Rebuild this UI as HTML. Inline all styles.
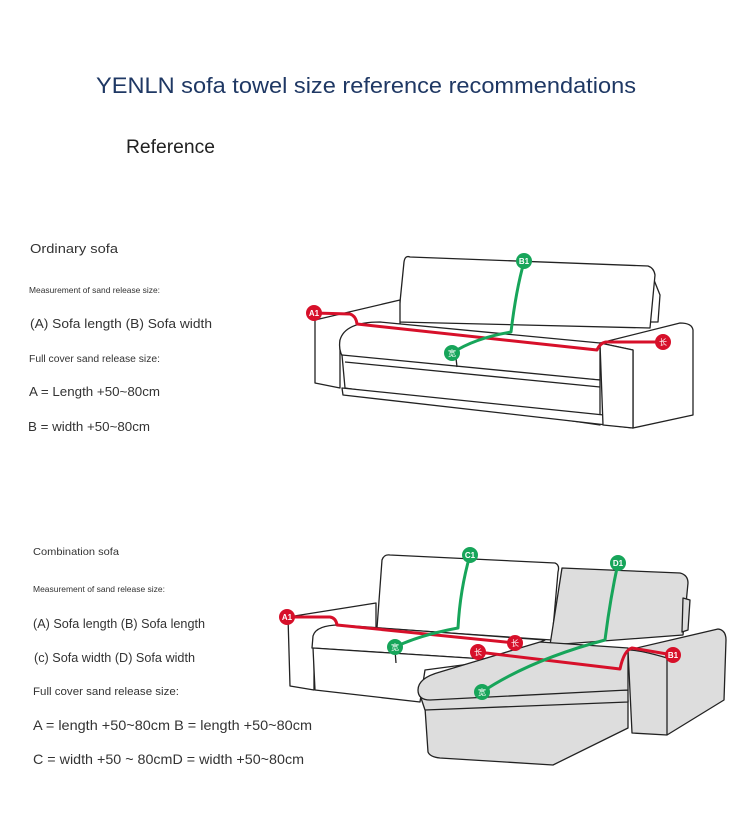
<!DOCTYPE html>
<html><head><meta charset="utf-8"><style>
html,body{margin:0;padding:0;background:#fff;}
svg{display:block;}
text{font-family:"Liberation Sans","Noto Sans CJK SC",sans-serif;}
</style></head><body>
<svg width="750" height="835" viewBox="0 0 750 835" xmlns="http://www.w3.org/2000/svg">
<rect width="750" height="835" fill="#fff"/>
<text x="96" y="93" font-size="22" fill="#1f3864" textLength="540" lengthAdjust="spacingAndGlyphs">YENLN sofa towel size reference recommendations</text>
<text x="126" y="153" font-size="19" fill="#222" textLength="89" lengthAdjust="spacingAndGlyphs">Reference</text>

<g fill="#333">
<text x="30" y="253" font-size="13" textLength="88" lengthAdjust="spacingAndGlyphs">Ordinary sofa</text>
<text x="29" y="293" font-size="8.5" textLength="131" lengthAdjust="spacingAndGlyphs">Measurement of sand release size:</text>
<text x="30" y="328" font-size="13" textLength="182" lengthAdjust="spacingAndGlyphs">(A) Sofa length (B) Sofa width</text>
<text x="29" y="362" font-size="10" textLength="131" lengthAdjust="spacingAndGlyphs">Full cover sand release size:</text>
<text x="29" y="396" font-size="13" textLength="131" lengthAdjust="spacingAndGlyphs">A = Length +50~80cm</text>
<text x="28" y="431" font-size="13" textLength="122" lengthAdjust="spacingAndGlyphs">B = width +50~80cm</text>

<text x="33" y="555" font-size="10.5" textLength="86" lengthAdjust="spacingAndGlyphs">Combination sofa</text>
<text x="33" y="592" font-size="8" textLength="132" lengthAdjust="spacingAndGlyphs">Measurement of sand release size:</text>
<text x="33" y="628" font-size="13" textLength="172" lengthAdjust="spacingAndGlyphs">(A) Sofa length (B) Sofa length</text>
<text x="34" y="662" font-size="13" textLength="161" lengthAdjust="spacingAndGlyphs">(c) Sofa width (D) Sofa width</text>
<text x="33" y="695" font-size="11" textLength="146" lengthAdjust="spacingAndGlyphs">Full cover sand release size:</text>
<text x="33" y="730" font-size="14" textLength="279" lengthAdjust="spacingAndGlyphs">A = length +50~80cm B = length +50~80cm</text>
<text x="33" y="764" font-size="14" textLength="271" lengthAdjust="spacingAndGlyphs">C = width +50 ~ 80cmD = width +50~80cm</text>
</g>

<!-- Top sofa -->
<g fill="#fff" stroke="#222" stroke-width="1.3" stroke-linejoin="round">
<path d="M650 270 L660 295 L658 322 L648 322 Z"/>
<path d="M410 257 Q405 255 404 262 L398 322 L650 328 L655 275 Q654 268 648 266 Z"/>
<path d="M315 320 L400 300 L400 335 L340 340 L340 388 L315 383 Z"/>
<path d="M340 340 Q345 322 380 322 L600 343 L600 380 L345 360 Q338 352 340 340 Z"/>
<path d="M342 355 L345 388 L600 425 L600 380 Z"/>
<path d="M342 388 L343 395 L633 428 L633 418 Z"/>
<path d="M600 343 L680 323 Q692 323 693 330 L693 415 L633 428 L633 350 Z"/>
<path d="M600 343 L633 350 L633 428 L603 425 Z"/>
<line x1="456" y1="358" x2="457" y2="367"/>
<line x1="345" y1="362" x2="600" y2="387"/>
</g>
<g fill="none" stroke-width="3" stroke-linecap="round" stroke-linejoin="round">
<path d="M314 313 L350 314 Q356 316 357 324 L597 350 Q600 343 606 342 L662 342" stroke="#d7102a"/>
<path d="M524 262 Q516 290 511 332 Q475 338 452 353" stroke="#17a55a"/>
</g>
<g font-size="8" font-weight="bold" fill="#fff" text-anchor="middle">
<circle cx="314" cy="313" r="8" fill="#d7102a"/><text x="314" y="316">A1</text>
<circle cx="524" cy="261" r="8" fill="#17a55a"/><text x="524" y="264">B1</text>
<circle cx="452" cy="353" r="8" fill="#17a55a"/><text x="452" y="356" font-weight="normal">宽</text>
<circle cx="663" cy="342" r="8" fill="#d7102a"/><text x="663" y="345" font-weight="normal">长</text>
</g>

<!-- Bottom sofa -->
<g stroke="#222" stroke-width="1.3" stroke-linejoin="round">
<path d="M390 555 L555 563 Q560 565 558 572 L552 640 L377 628 L382 560 Q384 554 390 555 Z" fill="#fff"/>
<path d="M562 568 L680 573 Q688 575 688 583 L683 635 L550 645 Z" fill="#ddd"/>
<path d="M683 598 L690 600 L688 630 L682 632 Z" fill="#ddd"/>
<path d="M288 617 L376 603 L376 630 L314 636 L314 690 L290 686 Z" fill="#fff"/>
<path d="M313 636 Q316 625 340 625 L545 640 L500 660 L312 648 Z" fill="#fff"/>
<path d="M313 648 L315 690 L420 702 L425 670 L500 660 Z" fill="#fff"/>
<path d="M425 708 L428 752 Q430 757 440 758 L553 765 L628 728 L628 700 Z" fill="#ddd"/>
<path d="M420 695 L425 710 L628 702 L628 690 Z" fill="#ddd"/>
<path d="M418 690 Q418 678 440 672 L540 642 L628 648 L628 690 L430 700 Q418 700 418 690 Z" fill="#ddd"/>
<path d="M628 650 L718 629 Q726 630 726 640 L724 700 L667 735 L632 733 Z" fill="#ddd"/>
<path d="M628 650 Q640 650 667 658 L667 735" fill="none"/>
<line x1="395" y1="650" x2="396" y2="663" fill="none"/>
</g>
<g fill="none" stroke-width="3" stroke-linecap="round" stroke-linejoin="round">
<path d="M287 617 L330 617 Q336 618 337 625 L515 643" stroke="#d7102a"/>
<path d="M478 652 L620 669 Q624 650 632 648 L673 655" stroke="#d7102a"/>
<path d="M470 555 Q460 590 458 628 Q420 635 395 647" stroke="#17a55a"/>
<path d="M618 563 Q610 600 605 640 Q530 660 482 692" stroke="#17a55a"/>
</g>
<g font-size="8" font-weight="bold" fill="#fff" text-anchor="middle">
<circle cx="287" cy="617" r="8" fill="#d7102a"/><text x="287" y="620">A1</text>
<circle cx="470" cy="555" r="8" fill="#17a55a"/><text x="470" y="558">C1</text>
<circle cx="618" cy="563" r="8" fill="#17a55a"/><text x="618" y="566">D1</text>
<circle cx="395" cy="647" r="8" fill="#17a55a"/><text x="395" y="650" font-weight="normal">宽</text>
<circle cx="515" cy="643" r="8" fill="#d7102a"/><text x="515" y="646" font-weight="normal">长</text>
<circle cx="478" cy="652" r="8" fill="#d7102a"/><text x="478" y="655" font-weight="normal">长</text>
<circle cx="673" cy="655" r="8" fill="#d7102a"/><text x="673" y="658">B1</text>
<circle cx="482" cy="692" r="8" fill="#17a55a"/><text x="482" y="695" font-weight="normal">宽</text>
</g>
</svg>
</body></html>
